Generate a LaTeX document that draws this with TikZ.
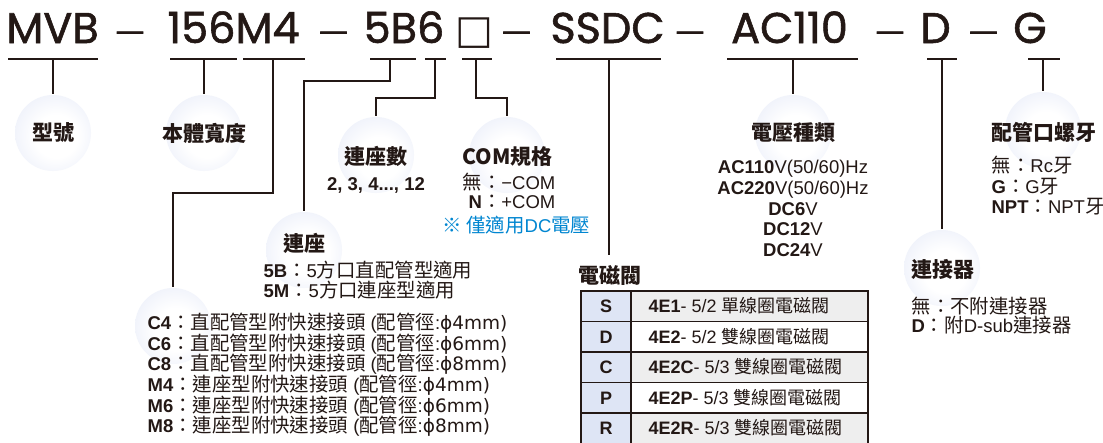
\documentclass[tikz,border=0pt]{standalone}
\usepackage{fontspec}
\setmainfont{Liberation Sans}
\newfontfamily\cjkf{Noto Sans CJK TC}
\newfontfamily\cjkb[Scale=1.05]{Noto Sans CJK TC}
\newfontfamily\titlef[FakeBold=1.3]{Poppins}
\newfontfamily\dashf[FakeBold=2.5]{Liberation Sans}
\newfontfamily\dvs{DejaVu Sans}
\newcommand{\C}[1]{{\cjkb #1}}
\newcommand{\T}[1]{{\cjkf #1}}
\definecolor{ink}{RGB}{35,24,21}
\definecolor{ballc}{RGB}{216,223,244}
\definecolor{note}{RGB}{0,134,209}
\definecolor{cellblue}{RGB}{222,229,245}
\definecolor{cellgray}{RGB}{238,238,238}
\pgfdeclareradialshading{bubbleshade}{\pgfpoint{3bp}{-3bp}}{color(0bp)=(white); color(14bp)=(white); color(50bp)=(ballc)}
\begin{document}
\begin{tikzpicture}[x=1pt,y=-1pt,line width=1.2pt,draw=ink,
  bubble/.style={circle,minimum size=76pt,inner sep=0pt,shading=bubbleshade},
  ttl/.style={font=\titlef\fontsize{43}{48}\selectfont,text=ink,inner sep=0pt,anchor=base},
  dashn/.style={font=\dashf\fontsize{26}{28}\selectfont,text=ink,inner sep=0pt,anchor=base},
  lbl/.style={font=\fontsize{21}{24}\selectfont\cjkf\bfseries,text=ink,inner sep=0pt},
  body/.style={font=\fontsize{18.5}{20.5}\selectfont,text=ink,inner sep=0pt},
  tbl/.style={font=\fontsize{18}{20}\selectfont,text=ink,inner sep=0pt}]
\useasboundingbox (0,0) rectangle (1103,442);
\fill[white] (0,0) rectangle (1103,442);

% ---------- title ----------
\node[ttl] (tMVB) at (52.5,43) {MVB};
\node[dashn] (d1) at (130,39.2) {—};
\node[ttl] (t156) at (233.5,43) {156M4};
\node[dashn] (d2) at (333.5,39.2) {—};
\node[ttl] (t5B6) at (404,43) {5B6};
\node[font=\dvs\fontsize{40}{42}\selectfont,text=ink,inner sep=0pt] (tbox) at (474.5,33) {□};
\node[dashn] (d3) at (516.5,39.2) {—};
\node[ttl] (tSSDC) at (607.5,43) {SSDC};
\node[dashn] (d4) at (690,39.2) {—};
\node[ttl] (tAC) at (789.5,43) {AC110};
\node[dashn] (d5) at (890,39.2) {—};
\node[ttl] (tD) at (935.5,43) {D};
\node[dashn] (d6) at (983.5,39.2) {—};
\node[ttl] (tG) at (1030,43) {G};

% ---------- bubbles ----------
\node[bubble] (c1) at (53,133) {};
\node[bubble] (c2) at (204,133) {};
\node[bubble] (c3) at (376,155) {};
\node[bubble] (c4) at (507,155) {};
\node[bubble] (c5) at (304,250) {};
\node[bubble] (c6) at (173,326) {};
\node[bubble] (c7) at (793,133) {};
\node[bubble] (c8) at (1043,130) {};
\node[bubble] (c9) at (942,268) {};

% ---------- underlines ----------
\foreach \a/\b in {8/98,170/237,243/305,370/416,425/446,462/492,556/661,727/858,927/957,1028/1060}
  \draw (\a,59) -- (\b,59);

% ---------- stems ----------
\coordinate (s1) at (53,59);
\coordinate (s2) at (204,59);
\coordinate (s3) at (273,59);
\coordinate (s4) at (390,59);
\coordinate (s5) at (435,59);
\coordinate (s6) at (476,59);
\coordinate (s7) at (609,59);
\coordinate (s8) at (793,59);
\coordinate (s9) at (942,59);
\coordinate (s10) at (1043,59);
\coordinate (k3) at (273,193);
\coordinate (k4) at (390,81);
\coordinate (k5) at (435,98);
\coordinate (k6) at (476,98);
\coordinate (e7) at (609,255);
\draw (s1) -- (c1.north);
\draw (s2) -- (c2.north);
\draw (s3) -- (k3) -| (c6.north);
\draw (s4) -- (k4) -| (c5.north);
\draw (s5) -- (k5) -| (c3.north);
\draw (s6) -- (k6) -| (c4.north);
\draw (s7) -- (e7);
\draw (s8) -- (c7.north);
\draw (s9) -- (c9.north);
\draw (s10) -- (c8.north);

% ---------- labels ----------
\node[lbl] (l1) at (53,133) {型號};
\node[lbl] (l2) at (204,133) {本體寬度};
\node[lbl] (l3) at (376,156) {連座數};
\node[lbl,anchor=base] (l4) at (507.5,164) {\textbf{COM}規格};
\node[lbl] (l5) at (304,243) {連座};
\node[lbl] (l7) at (793,133) {電壓種類};
\node[lbl,anchor=west] (l8) at (991,132) {配管口螺牙};
\node[lbl,anchor=west] (l9) at (911,269) {連接器};
\node[lbl,anchor=west] (l10) at (578,275) {電磁閥};

% ---------- texts ----------
\node[body,anchor=base] (n3) at (376,190.7) {\textbf{2, 3, 4..., 12}};
\node[body,anchor=base east] (com1) at (556,189.7) {\C{無：}−COM};
\node[body,anchor=base east] (com2) at (556,208.7) {\textbf{N}\C{：}+COM};
\node[body,anchor=base west,text=note] (com3) at (442,232.7) {\C{※ 僅適用}DC\C{電壓}};

\node[body,anchor=base west] (b5B) at (263,277.7) {\textbf{5B}\C{：}5\C{方口直配管型適用}};
\node[body,anchor=base west] (b5M) at (263,297.7) {\textbf{5M}\C{：}5\C{方口連座型適用}};

\node[body,anchor=base west] (q1) at (147,329.7) {\textbf{C4}\C{：直配管型附快速接頭} (\C{配管徑}:\dvs{ϕ}4mm)};
\node[body,anchor=base west] (q2) at (147,350.3) {\textbf{C6}\C{：直配管型附快速接頭} (\C{配管徑}:\dvs{ϕ}6mm)};
\node[body,anchor=base west] (q3) at (147,370.9) {\textbf{C8}\C{：直配管型附快速接頭} (\C{配管徑}:\dvs{ϕ}8mm)};
\node[body,anchor=base west] (q4) at (147,391.5) {\textbf{M4}\C{：連座型附快速接頭} (\C{配管徑}:\dvs{ϕ}4mm)};
\node[body,anchor=base west] (q5) at (147,412.1) {\textbf{M6}\C{：連座型附快速接頭} (\C{配管徑}:\dvs{ϕ}6mm)};
\node[body,anchor=base west] (q6) at (147,432.7) {\textbf{M8}\C{：連座型附快速接頭} (\C{配管徑}:\dvs{ϕ}8mm)};

\node[body,anchor=base] (v1) at (793,173.7) {\textbf{AC110}V(50/60)Hz};
\node[body,anchor=base] (v2) at (793,194.4) {\textbf{AC220}V(50/60)Hz};
\node[body,anchor=base] (v3) at (793,215.1) {\textbf{DC6}V};
\node[body,anchor=base] (v4) at (793,235.8) {\textbf{DC12}V};
\node[body,anchor=base] (v5) at (793,256.5) {\textbf{DC24}V};

\node[body,anchor=base west] (g1) at (991,172.7) {\C{無：}Rc\C{牙}};
\node[body,anchor=base west] (g2) at (991,193.2) {\textbf{G}\C{：}G\C{牙}};
\node[body,anchor=base west] (g3) at (991,213.7) {\textbf{NPT}\C{：}NPT\C{牙}};

\node[body,anchor=base west] (j1) at (911,313.7) {\C{無：不附連接器}};
\node[body,anchor=base west] (j2) at (911,332.7) {\textbf{D}\C{：附}D-sub\C{連接器}};

% ---------- table ----------
\foreach \i/\f in {0/cellgray,1/white,2/cellgray,3/white,4/cellgray}{
  \fill[cellblue] (581,291+30.5*\i) rectangle (631,321.5+30.5*\i);
  \fill[\f] (631,291+30.5*\i) rectangle (868,321.5+30.5*\i);
}
\draw (581,291) rectangle (868,443.5);
\draw (631,291) -- (631,443.5);
\foreach \i in {1,2,3,4} \draw (581,291+30.5*\i) -- (868,291+30.5*\i);

\node[tbl,anchor=base] (r1a) at (606,312.9) {\textbf{S}};
\node[tbl,anchor=base] (r2a) at (606,343.4) {\textbf{D}};
\node[tbl,anchor=base] (r3a) at (606,373.9) {\textbf{C}};
\node[tbl,anchor=base] (r4a) at (606,404.4) {\textbf{P}};
\node[tbl,anchor=base] (r5a) at (606,434.9) {\textbf{R}};
\node[tbl,anchor=base west] (r1b) at (648,312.9) {\textbf{4E1}- 5/2 \T{單線圈電磁閥}};
\node[tbl,anchor=base west] (r2b) at (648,343.4) {\textbf{4E2}- 5/2 \T{雙線圈電磁閥}};
\node[tbl,anchor=base west] (r3b) at (648,373.9) {\textbf{4E2C}- 5/3 \T{雙線圈電磁閥}};
\node[tbl,anchor=base west] (r4b) at (648,404.4) {\textbf{4E2P}- 5/3 \T{雙線圈電磁閥}};
\node[tbl,anchor=base west] (r5b) at (648,434.9) {\textbf{4E2R}- 5/3 \T{雙線圈電磁閥}};
\end{tikzpicture}
\end{document}
